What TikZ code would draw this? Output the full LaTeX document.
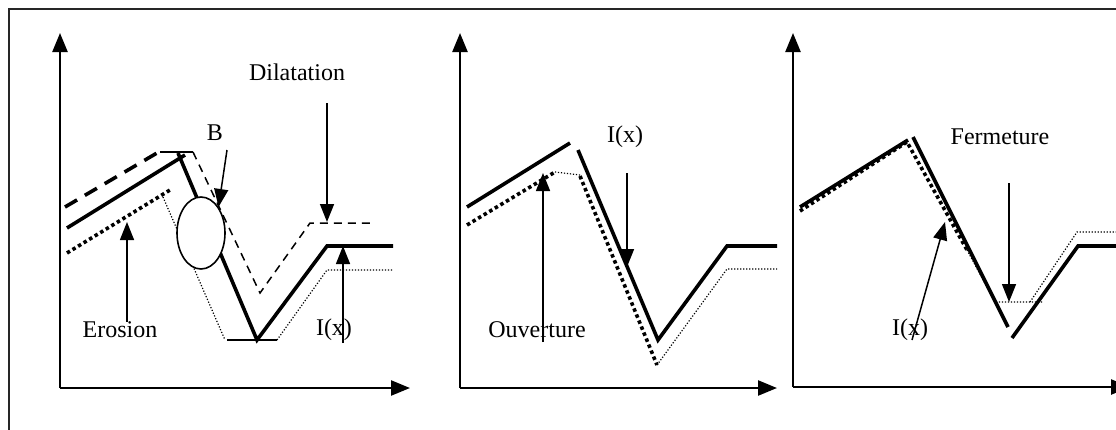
\documentclass[tikz,border=0pt]{standalone}
\usepackage{fontspec}
\setmainfont{Liberation Serif}
\usetikzlibrary{arrows.meta, shapes.geometric}

\begin{document}
\begin{tikzpicture}[
  x=1pt, y=-1pt,
  every node/.style={font=\fontsize{24}{28}\selectfont, inner sep=0pt},
  axis/.style={line width=2.4pt, -{Triangle[length=19pt,width=15pt]}},
  arrow/.style={line width=1.5pt, -{Triangle[length=18pt,width=14pt]}},
  signal/.style={line width=3.6pt, line join=miter},
  bigdash/.style={line width=3.6pt, dash pattern=on 14pt off 9pt},
  smalldash/.style={line width=1.5pt, dash pattern=on 8pt off 6pt},
  bigdot/.style={line width=3.6pt, dash pattern=on 3.5pt off 3pt},
  smalldot/.style={line width=1.2pt, dash pattern=on 1.2pt off 1.8pt},
  ]

  \useasboundingbox (0,0) rectangle (1116,429);
  % frame
  \draw[line width=2.2pt, black!85] (9,440) -- (9,9) -- (1130,9);

  % ---- Erosion / Dilatation ----
  \coordinate (o1) at (60,388);
  \draw[axis] (o1) -- (60,33);
  \draw[axis] (o1) -- (410,388);

  \draw[bigdash] (65,207) -- (157,153);
  \draw[line width=2.2pt] (160,152) -- (193,152);
  \draw[smalldash] (193,152) -- (260,293) -- (310,223) -- (373,223);
  \draw[signal] (67,228) -- (185,155);
  \draw[signal] (178,153) -- (257,340) -- (327,246) -- (393,246);
  \draw[line width=2.2pt] (227,340) -- (277,340);
  \draw[bigdot] (67,253) -- (170,190);
  \draw[smalldot] (163,197) -- (225,340);
  \draw[smalldot] (277,340) -- (327,270) -- (393,270);
  \node[draw, ellipse, fill=white, line width=1.6pt, minimum width=48pt, minimum height=72pt] (B) at (201,233) {};

  \node (lblB) at (215,133) {B};
  \coordinate (Btail) at (227,150);
  \draw[arrow] (Btail) -- (B.north east);

  \node (dil) at (297,72) {Dilatation};
  \coordinate (dilA) at (327,103);
  \coordinate (dilB) at (327,222);
  \draw[arrow] (dilA) -- (dilB);

  \node (ero) at (120,330) {Erosion};
  \coordinate (eroB) at (127,222);
  \draw[arrow] (ero.north -| eroB) -- (eroB);

  \node (I1) at (334,330) {I(x)};
  \coordinate (I1A) at (343,343);
  \coordinate (I1B) at (343,246);
  \draw[arrow] (I1A) -- (I1B);

  % ---- Ouverture ----
  \coordinate (o2) at (460,388);
  \draw[axis] (o2) -- (460,33);
  \draw[axis] (o2) -- (777,388);

  \draw[signal] (467,207) -- (570,143);
  \draw[signal] (578,150) -- (658,340) -- (727,246) -- (777,246);
  \draw[bigdot] (467,225) -- (555,172);
  \draw[smalldot] (555,172) -- (580,175);
  \draw[bigdot] (580,176) -- (657,365);
  \draw[smalldot] (657,365) -- (727,269) -- (777,269);

  \node (ouv) at (537,330) {Ouverture};
  \coordinate (ouvA) at (543,342);
  \coordinate (ouvB) at (543,173);
  \draw[arrow] (ouvA) -- (ouvB);

  \node (I2) at (625,137) {I(x)};
  \coordinate (I2A) at (627,173);
  \coordinate (I2B) at (627,267);
  \draw[arrow] (I2A) -- (I2B);

  % ---- Fermeture ----
  \coordinate (o3) at (793,387);
  \draw[axis] (o3) -- (793,33);
  \draw[axis] (o3) -- (1130,387);

  \draw[bigdot] (800,211) -- (907,142) -- (967,250);
  \draw[smalldot] (967,250) -- (995,302) -- (1042,302);
  \draw[smalldot] (1030,302) -- (1077,232) -- (1130,232);
  \draw[signal] (800,207) -- (908,140);
  \draw[signal] (913,137) -- (1008,327);
  \draw[signal] (1012,338) -- (1078,246) -- (1130,246);

  \node (fer) at (1000,137) {Fermeture};
  \coordinate (ferA) at (1009,183);
  \coordinate (ferB) at (1009,302);
  \draw[arrow] (ferA) -- (ferB);

  \node (I3) at (910,330) {I(x)};
  \coordinate (I3A) at (912,340);
  \coordinate (I3B) at (945,222);
  \draw[arrow] (I3A) -- (I3B);

\end{tikzpicture}
\end{document}
